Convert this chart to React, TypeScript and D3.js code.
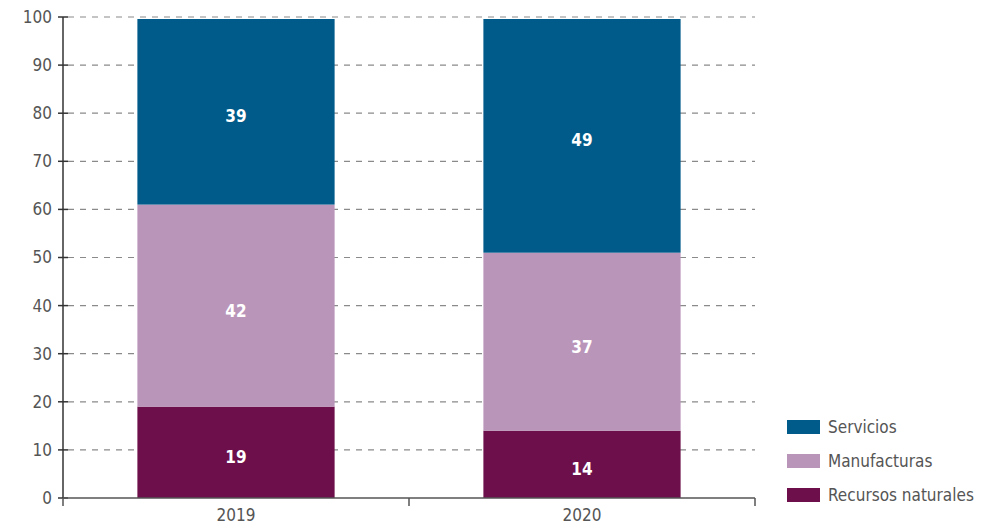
import React from "react";
import { scaleBand, scaleLinear, stack } from "d3";

// years on the x axis
const years = ["2019", "2020"];
// series, bottom to top
const seriesKeys = ["Recursos naturales", "Manufacturas", "Servicios"];
const recursos = [19, 14];
const manufacturas = [42, 37];
const servicios = [39, 49];
const yTicks = [0, 10, 20, 30, 40, 50, 60, 70, 80, 90, 100];
const colors: Record<string, string> = {
  Servicios: "#005b8a",
  Manufacturas: "#ba95ba",
  "Recursos naturales": "#6c0f4b",
};
const legendOrder = ["Servicios", "Manufacturas", "Recursos naturales"];

const width = 989;
const height = 529;
const margin = { top: 17, right: 234, bottom: 31, left: 63 };
const font = "'Liberation Sans Narrow', 'DejaVu Sans Condensed', sans-serif";

export default function App() {
  const rows = years.map((year, i) => ({
    year,
    "Recursos naturales": recursos[i],
    Manufacturas: manufacturas[i],
    Servicios: servicios[i],
  }));

  const series = stack<any>().keys(seriesKeys)(rows);

  const x = scaleBand()
    .domain(years)
    .range([margin.left, width - margin.right])
    .paddingInner(0.43)
    .paddingOuter(0.215);

  const y = scaleLinear()
    .domain([0, 100])
    .range([height - margin.bottom, margin.top]);

  const x0 = margin.left;
  const x1 = width - margin.right;
  const step = x.step();

  return (
    <svg
      width={width}
      height={height}
      style={{ position: "absolute", left: 0, top: 0, background: "#fff" }}
      fontFamily={font}
    >
      {/* grid */}
      {yTicks.slice(1).map((t) => (
        <line
          key={t}
          x1={x0 + 5}
          x2={x1}
          y1={y(t)}
          y2={y(t)}
          stroke="#8a8a8a"
          strokeWidth={1.2}
          strokeDasharray="6,6"
        />
      ))}

      {/* bars */}
      {series.map((s) => (
        <g key={s.key} fill={colors[s.key]}>
          {s.map((d, i) => (
            <rect
              key={i}
              x={x(years[i])}
              y={y(d[1]) + (d[1] >= 100 ? 2 : 0)}
              width={x.bandwidth()}
              height={y(d[0]) - y(d[1]) - (d[1] >= 100 ? 2 : 0)}
            />
          ))}
        </g>
      ))}

      {/* value labels */}
      {series.map((s) =>
        s.map((d, i) => (
          <text
            key={s.key + i}
            x={(x(years[i]) ?? 0) + x.bandwidth() / 2}
            y={(y(d[0]) + y(d[1])) / 2 + 5}
            dy="0.35em"
            textAnchor="middle"
            fill="#fff"
            fontWeight="bold"
            fontSize={17}
          >
            {d[1] - d[0]}
          </text>
        ))
      )}

      {/* y axis */}
      <line x1={x0} x2={x0} y1={y(100)} y2={y(0)} stroke="#333" strokeWidth={1.5} />
      {yTicks.map((t) => (
        <g key={t}>
          <line x1={x0 - 5} x2={x0 + 5} y1={y(t)} y2={y(t)} stroke="#333" strokeWidth={1.5} />
          <text
            x={x0 - 11}
            y={y(t)}
            dy="0.35em"
            textAnchor="end"
            fill="#555"
            fontSize={17}
          >
            {t}
          </text>
        </g>
      ))}

      {/* x axis */}
      <line x1={x0} x2={x1} y1={y(0)} y2={y(0)} stroke="#555" strokeWidth={1.5} />
      {[0, 1, 2].map((k) => (
        <line
          key={k}
          x1={x0 + k * step}
          x2={x0 + k * step}
          y1={y(0)}
          y2={y(0) + 8}
          stroke="#555"
          strokeWidth={1.5}
        />
      ))}
      {years.map((yr) => (
        <text
          key={yr}
          x={(x(yr) ?? 0) + x.bandwidth() / 2}
          y={y(0) + 23}
          textAnchor="middle"
          fill="#555"
          fontSize={17}
        >
          {yr}
        </text>
      ))}

      {/* legend */}
      {legendOrder.map((k, i) => (
        <g key={k} transform={`translate(787,${420 + i * 34})`}>
          <rect width={33} height={14} fill={colors[k]} />
          <text x={41} y={7} dy="0.35em" fill="#555" fontSize={17}>
            {k}
          </text>
        </g>
      ))}
    </svg>
  );
}
